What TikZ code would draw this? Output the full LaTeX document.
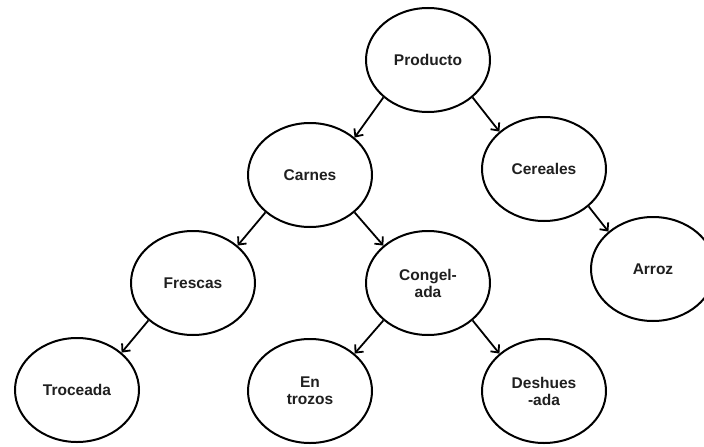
\documentclass[tikz,border=0pt]{standalone}
\usepackage{fontspec}
\setmainfont{Liberation Sans}
\usetikzlibrary{shapes.geometric,arrows.meta}
\begin{document}
\begin{tikzpicture}[x=1pt,y=-1pt,
  item/.style={ellipse,draw=black,line width=2pt,fill=white,
    minimum width=124pt,minimum height=104pt,inner sep=0pt,
    align=center,font=\fontsize{15.5}{17}\selectfont\bfseries,
    text=black!88},
  link/.style={line width=1.8pt,-{Straight Barb[length=6pt,width=11pt,line width=1.8pt]}}]
\useasboundingbox (0,0) rectangle (704,447);
\fill[white] (0,0) rectangle (704,447);

% tree nodes
\node[item] (prod) at (428,60)  {Producto};
\node[item] (carn) at (310,175) {Carnes};
\node[item] (cere) at (544,169) {Cereales};
\node[item] (fres) at (193,283) {Frescas};
\node[item] (cong) at (428,283) {Congel-\\ada};
\node[item] (arro) at (653,269) {Arroz};
\node[item] (troc) at (77,390)  {Troceada};
\node[item] (entr) at (310,391) {En\\trozos};
\node[item] (desh) at (544,391) {Deshues\\-ada};

% connectors
\draw[link] (prod.220) -- (carn.40);
\draw[link] (prod.320) -- (cere.140);
\draw[link] (carn.220) -- (fres.40);
\draw[link] (carn.320) -- (cong.140);
\draw[link] (cere.320) -- (arro.140);
\draw[link] (fres.220) -- (troc.40);
\draw[link] (cong.220) -- (entr.40);
\draw[link] (cong.320) -- (desh.140);
\end{tikzpicture}
\end{document}
